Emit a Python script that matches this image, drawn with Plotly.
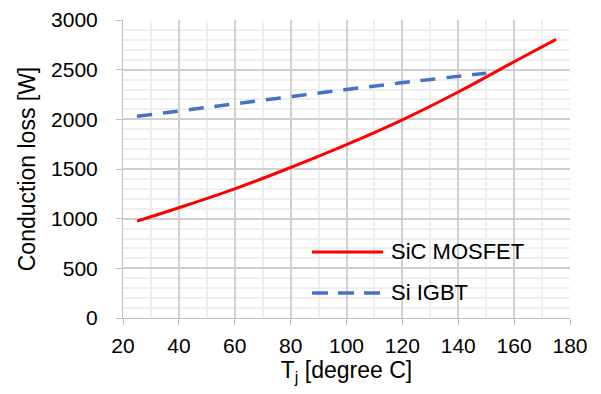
import plotly.graph_objects as go

tj_sic = [25, 40, 60, 80, 100, 120, 140, 160, 175]
loss_sic = [975, 1110, 1300, 1515, 1745, 1995, 2275, 2580, 2805]
tj_igbt = [25, 50, 75, 100, 125, 150]
loss_igbt = [2030, 2120, 2210, 2300, 2385, 2465]

x_ticks = [20, 40, 60, 80, 100, 120, 140, 160, 180]
y_ticks = [0, 500, 1000, 1500, 2000, 2500, 3000]

names = ["SiC MOSFET", "Si IGBT"]
colors = ["#FF0000", "#4472C4"]
dashes = ["solid", "15px,11px"]
widths = [3, 3.5]

fig = go.Figure()
fig.add_trace(go.Scatter(x=tj_sic, y=loss_sic, mode="lines", name=names[0], showlegend=False,
                         line=dict(color=colors[0], width=widths[0], shape="spline")))
fig.add_trace(go.Scatter(x=tj_igbt, y=loss_igbt, mode="lines", name=names[1], showlegend=False,
                         line=dict(color=colors[1], width=widths[1], dash=dashes[1], shape="spline")))

FONT = "Liberation Sans, Arial, sans-serif"
tick_font = dict(family=FONT, size=21, color="#000000")
title_font = dict(family=FONT, size=23, color="#000000")

# legend (drawn in paper coordinates)
leg_y = [0.2215, 0.0839]
for i in range(2):
    fig.add_shape(type="line", xref="paper", yref="paper", x0=0.4228, x1=0.5817,
                  y0=leg_y[i], y1=leg_y[i],
                  line=dict(color=colors[i], width=widths[i],
                            dash="16px,10px" if i == 1 else "solid"))
    fig.add_annotation(xref="paper", yref="paper", x=0.5950, y=leg_y[i], text=names[i],
                       showarrow=False, xanchor="left", yanchor="middle",
                       font=dict(family=FONT, size=22, color="#000000"))

fig.update_layout(
    width=601, height=394,
    margin=dict(l=123, r=31, t=20, b=76),
    paper_bgcolor="white", plot_bgcolor="white",
    showlegend=False,
)
fig.update_xaxes(range=[20, 180], tickvals=x_ticks, ticks="outside", ticklen=6,
                 tickcolor="#BFBFBF", showline=True, linecolor="#BFBFBF", linewidth=1,
                 showgrid=True, gridcolor="#D0D0D0", gridwidth=1.5, zeroline=False,
                 tickfont=tick_font, ticklabelstandoff=3,
                 minor=dict(dtick=10, showgrid=True, gridcolor="#EEEEEE", gridwidth=1.5),
                 automargin=False,
                 title=dict(text="T<sub>j</sub> [degree C]", font=title_font, standoff=1))
fig.update_yaxes(range=[0, 3000], tickvals=y_ticks, ticks="outside", ticklen=6,
                 tickcolor="#BFBFBF", showline=True, linecolor="#BFBFBF", linewidth=1,
                 showgrid=True, gridcolor="#D0D0D0", gridwidth=1.5, zeroline=False,
                 tickfont=tick_font, ticklabelstandoff=14,
                 minor=dict(dtick=100, showgrid=True, gridcolor="#EEEEEE", gridwidth=1.5),
                 automargin=False,
                 title=dict(text="Conduction loss [W]", font=title_font, standoff=9))
fig.write_html("out.html")
